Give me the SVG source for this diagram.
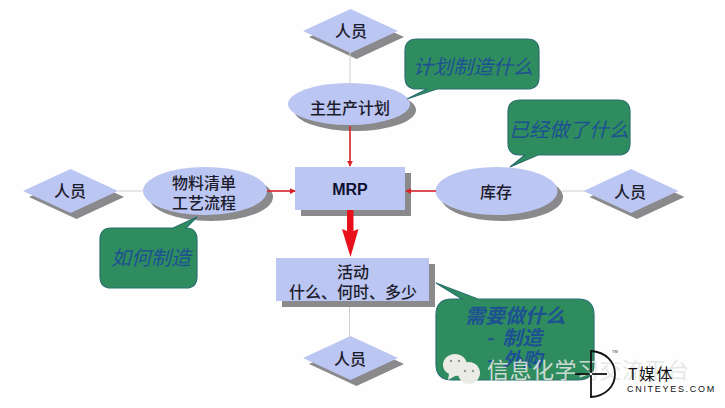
<svg xmlns="http://www.w3.org/2000/svg" width="725" height="408" viewBox="0 0 725 408">
<defs>
<style>
.sh{fill:#8a8a8c}
.nf{fill:#bcc6f2}
.cf{fill:#2f8c5f;stroke:#2a6f70;stroke-width:1.2}
.t{font-family:"Noto Sans CJK SC","Liberation Sans",sans-serif;font-size:16px;font-weight:500;fill:#1c1c2c;text-anchor:middle}
.c{font-family:"Noto Sans CJK SC","Liberation Sans",sans-serif;font-size:20px;font-style:italic;fill:#1d5191;text-anchor:middle}
.ln{stroke:#cfcfd2;stroke-width:1;fill:none}
.ar{stroke:#d8222a;stroke-width:1.6;fill:none;marker-end:url(#h)}
.bub{fill:#ecece6}
.eye{fill:#8f9a90}
</style>
<marker id="h" viewBox="0 0 8 8" refX="7" refY="4" markerWidth="6" markerHeight="6" markerUnits="userSpaceOnUse" orient="auto"><path d="M0 0L8 4L0 8Z" fill="#d8222a"/></marker>
<polygon id="dia" points="-47.5,0 0,-22 47.5,0 0,22"/>
</defs>
<rect width="725" height="408" fill="#fefefe"/>
<g id="n-person-top"><use href="#dia" x="356.500" y="37" class="sh"/><use href="#dia" x="350.500" y="31" class="nf"/><text class="t" x="351" y="37">人员</text></g>
<g id="n-person-left"><use href="#dia" x="76.500" y="197" class="sh"/><use href="#dia" x="70.500" y="191" class="nf"/><text class="t" x="70" y="197">人员</text></g>
<g id="n-person-right"><use href="#dia" x="637" y="197" class="sh"/><use href="#dia" x="631" y="191" class="nf"/><text class="t" x="630" y="198">人员</text></g>
<g id="n-person-bottom"><use href="#dia" x="356.500" y="364" class="sh"/><use href="#dia" x="350.500" y="358" class="nf"/><text class="t" x="350" y="365">人员</text></g>
<g id="n-mps"><ellipse cx="355" cy="110" rx="61" ry="21" class="sh"/><ellipse cx="349" cy="104" rx="61" ry="21" class="nf"/><text class="t" x="350" y="114">主生产计划</text></g>
<g id="n-bom"><ellipse cx="211" cy="197" rx="62" ry="24" class="sh"/><ellipse cx="205" cy="191" rx="62" ry="24" class="nf"/><text class="t" x="204" y="189">物料清单</text><text class="t" x="204" y="209">工艺流程</text></g>
<g id="n-stock"><ellipse cx="502" cy="197" rx="61" ry="24" class="sh"/><ellipse cx="496.500" cy="191" rx="61" ry="24" class="nf"/><text class="t" x="496" y="198">库存</text></g>
<g id="n-mrp"><rect x="301" y="173" width="110" height="43" class="sh"/><rect x="295" y="167" width="110" height="43" class="nf"/><text x="350" y="195" font-family="Liberation Sans,sans-serif" font-size="16" font-weight="bold" fill="#101030" text-anchor="middle">MRP</text></g>
<g id="n-activity"><rect x="282" y="264" width="153" height="43" class="sh"/><rect x="276" y="258" width="153" height="43" class="nf"/><text class="t" x="353" y="278">活动</text><text class="t" x="353" y="298">什么、何时、多少</text></g>
<g id="c-plan"><path class="cf" d="M417 39H527Q539 39 539 51V77Q539 89 527 89H437L407 99L427 89H417Q405 89 405 77V51Q405 39 417 39Z"/><text class="c" x="473" y="74">计划制造什么</text></g>
<g id="c-done"><path class="cf" d="M520 100H618Q630 100 630 112V143Q630 155 618 155H538L510 167L525 155H520Q508 155 508 143V112Q508 100 520 100Z"/><text class="c" x="569" y="137">已经做了什么</text></g>
<g id="c-how"><path class="cf" d="M186 228Q197 228 197 240V276Q197 288 186 288H111Q100 288 100 276V240Q100 228 111 228H173L197 217Z"/><text class="c" x="151" y="265">如何制造</text></g>
<g id="c-need"><path class="cf" d="M478 299H578Q594 299 594 315V364Q594 380 578 380H452Q436 380 436 364V315Q436 299 452 299H462L436 283Z"/><text class="c" x="515" y="323" font-weight="700">需要做什么</text><text class="c" x="514" y="345" font-weight="700" xml:space="preserve">-  制造</text><text class="c" x="514" y="367" font-weight="700" xml:space="preserve">-  外购</text></g>
<g id="connectors">
<path class="ln" d="M350 52V84"/>
<path class="ln" d="M118 191H144"/>
<path class="ln" d="M562 191H585"/>
<path class="ln" d="M349.500 307V338"/>
<path class="ar" d="M350 126V166"/>
<path class="ar" d="M267 191H295"/>
<path class="ar" d="M436 191H406"/>
<path d="M347 210H353.500V231L358.500 229L350.500 257L342 229L347 231Z" fill="#e8101a"/>
</g>
<g id="watermark">
<path class="bub" d="M455 354C462 354 467 359 467 365C467 371 462 376 455 376L448 380L449 374C445 372 443 369 443 365C443 359 448 354 455 354Z"/>
<path class="bub" d="M469 362C475 362 480 367 480 373C480 379 475 384 469 384C463 384 458 379 458 373C458 367 463 362 469 362Z"/>
<circle class="eye" cx="451" cy="361" r="1.200"/><circle class="eye" cx="459" cy="361" r="1.200"/><circle class="eye" cx="465" cy="371" r="1.200"/><circle class="eye" cx="473" cy="371" r="1.200"/>
<text x="487" y="378" font-family="Noto Sans CJK SC,sans-serif" font-size="22" fill="#e2e6e2" fill-opacity=".9" textLength="202">信息化学习交流平台</text>
<path d="M591 351C606 352 615 362 615 374C615 386 606 396 591 397Z" fill="none" stroke="#111" stroke-width="1.800"/>
<path d="M575 374H607" stroke="#111" stroke-width="1.800"/>
<circle cx="591" cy="374" r="1.300" fill="#fff"/>
<text x="612" y="353" font-family="Liberation Sans,sans-serif" font-size="4" fill="#333">TM</text>
<text x="628" y="380" font-family="Noto Sans CJK SC,sans-serif" font-size="16" letter-spacing="1.500" fill="#111">T媒体</text>
<text x="627" y="392" font-family="Liberation Sans,sans-serif" font-size="9" letter-spacing="1.700" fill="#111">CNITEYES.COM</text>
</g>
</svg>
